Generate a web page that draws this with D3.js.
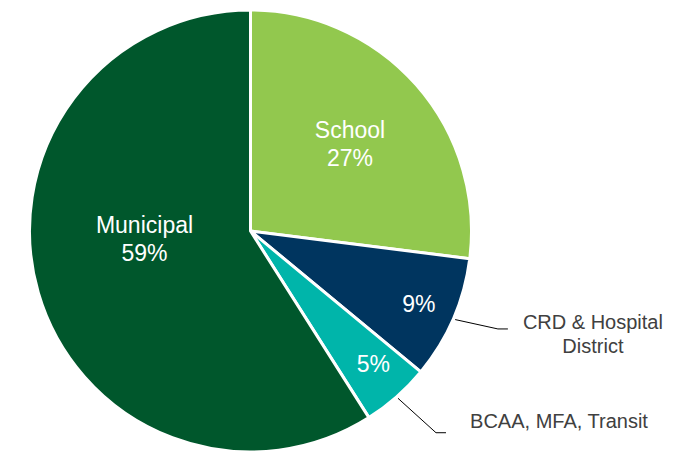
<!DOCTYPE html>
<html>
<head>
<meta charset="utf-8">
<script src="https://cdn.jsdelivr.net/npm/d3@7"></script>
<style>
  body { margin: 0; background: #fff; }
  text { font-family: "Liberation Sans", Arial, sans-serif; }
</style>
</head>
<body>
<script>
var categories = ["School", "CRD & Hospital District", "BCAA, MFA, Transit", "Municipal"];
var shares = [27, 9, 5, 59];
var colours = ["#92c84e", "#00355f", "#00b5aa", "#00572c"];

var width = 682, height = 451;
var cx = 250.5, cy = 231, radius = 221;

var svg = d3.select("body")
    .append("svg")
    .attr("width", width)
    .attr("height", height)
    .style("display", "block");

var g = svg.append("g").attr("transform", "translate(" + cx + "," + cy + ")");

var pie = d3.pie().sort(null).value(function (d) { return d.value; });
var data = categories.map(function (c, i) { return {name: c, value: shares[i], colour: colours[i]}; });
var arcs = pie(data);

var arc = d3.arc().innerRadius(0).outerRadius(radius);

g.selectAll("path")
    .data(arcs)
    .enter()
    .append("path")
    .attr("d", arc)
    .attr("fill", function (d) { return d.data.colour; })
    .attr("stroke", "#fff")
    .attr("stroke-width", 3)
    .attr("stroke-linejoin", "round");

// inside labels: radius fraction + small nudge
var inside = {
    "School": {r: 0.6, dx: 0, dy: 1, lines: ["School"]},
    "CRD & Hospital District": {r: 0.83, dx: 0, dy: 0, lines: []},
    "BCAA, MFA, Transit": {r: 0.84, dx: 0, dy: -6, lines: []},
    "Municipal": {lines: ["Municipal"]}
};

function midAngle(d) { return (d.startAngle + d.endAngle) / 2; }

arcs.forEach(function (d) {
    var o = inside[d.data.name];
    var a = midAngle(d);
    var x, y;
    if (d.data.name === "Municipal") {
        x = -106; y = 8;
    } else {
        x = Math.sin(a) * radius * o.r + o.dx;
        y = -Math.cos(a) * radius * o.r + o.dy;
    }
    var lines = o.lines.concat([d.data.value + "%"]);
    var t = g.append("text")
        .attr("text-anchor", "middle")
        .attr("fill", "#fff")
        .style("font-size", "23px");
    var lh = 28;
    var y0 = y - (lines.length - 1) * lh / 2 + 8;
    lines.forEach(function (l, i) {
        t.append("tspan").attr("x", x).attr("y", y0 + i * lh).text(l);
    });
});

// outside labels with leader lines
var outside = {
    "CRD & Hospital District": {elbow: 1.204, turn: -1.8, tail: 10, lines: ["CRD & Hospital", "District"], tx: 85, ty: 0},
    "BCAA, MFA, Transit": {elbow: 1.24, turn: -1.2, tail: 10, lines: ["BCAA, MFA, Transit"], tx: 113, ty: -5}
};

arcs.forEach(function (d) {
    var o = outside[d.data.name];
    if (!o) return;
    var a = midAngle(d);
    var b = a + o.turn * Math.PI / 180;
    var p0 = [Math.sin(a) * (radius + 2), -Math.cos(a) * (radius + 2)];
    var p1 = [Math.sin(b) * radius * o.elbow, -Math.cos(b) * radius * o.elbow];
    var p2 = [p1[0] + o.tail, p1[1]];
    g.append("path")
        .attr("d", d3.line()([p0, p1, p2]))
        .attr("fill", "none")
        .attr("stroke", "#000")
        .attr("stroke-width", 1);
    var t = g.append("text")
        .attr("text-anchor", "middle")
        .attr("fill", "#404040")
        .style("font-size", "20px");
    o.lines.forEach(function (l, i) {
        t.append("tspan")
            .attr("x", p2[0] + o.tx)
            .attr("y", p2[1] + o.ty + i * 24)
            .text(l);
    });
});
</script>
</body>
</html>
